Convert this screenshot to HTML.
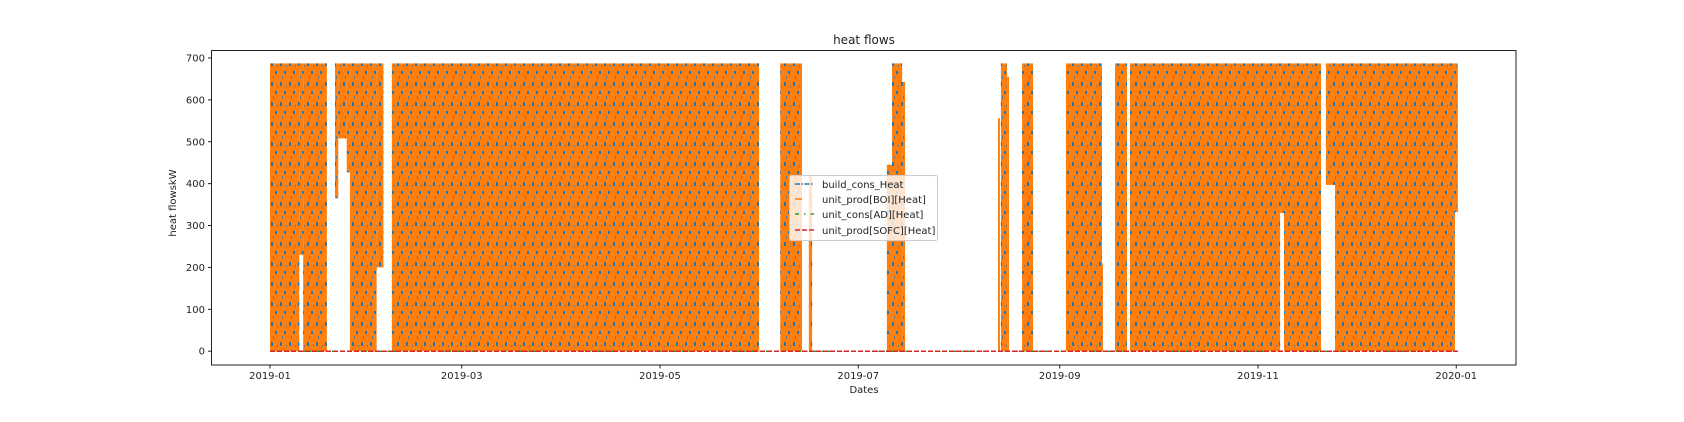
<!DOCTYPE html>
<html><head><meta charset="utf-8"><style>
body{margin:0;background:#fff;}
svg text{font-family:"DejaVu Sans","Liberation Sans",sans-serif;fill:#222;}
</style></head><body>
<svg width="1684" height="417" viewBox="0 0 1684 417" xmlns="http://www.w3.org/2000/svg">
<defs>
<pattern id="bluedots" x="0" y="0" width="9" height="20" patternUnits="userSpaceOnUse">
<rect x="1" y="2" width="2" height="4" fill="#1f77b4"/>
<rect x="5" y="11" width="2" height="3" fill="#1f77b4"/>
<rect x="3" y="16" width="1" height="3" fill="#1f77b4" opacity="0.7"/>
<rect x="7" y="5" width="1" height="2" fill="#1f77b4" opacity="0.6"/>
</pattern>
<clipPath id="plotclip"><rect x="211" y="51" width="1305" height="314"/></clipPath>
</defs>
<rect x="0" y="0" width="1684" height="417" fill="#fff"/>
<g id="marks" clip-path="url(#plotclip)"></g>
<g id="axes"></g>
<text x="864" y="44" text-anchor="middle" font-size="12">heat flows</text>
<text x="864" y="393" text-anchor="middle" font-size="10">Dates</text>
<text x="0" y="0" transform="translate(176,203) rotate(-90)" text-anchor="middle" font-size="10">heat flowskW</text>
<g>
<rect x="789.5" y="175.5" width="148" height="65" rx="2" fill="#fff" fill-opacity="0.8" stroke="#ccc"/>
<g><line x1="795" y1="184" x2="814" y2="184" stroke="#1f77b4" stroke-width="1.5" stroke-dasharray="5,1.5,1.5,1.5"/><text x="822" y="188" font-size="10">build_cons_Heat</text></g>
<g><line x1="795" y1="199" x2="814" y2="199" stroke="#ff7f0e" stroke-width="1.5" stroke-dasharray="7,30"/><text x="822" y="203" font-size="10">unit_prod[BOI][Heat]</text></g>
<g><line x1="795" y1="214" x2="814" y2="214" stroke="#2ca02c" stroke-width="1.5" stroke-dasharray="4,5,1.5,5"/><text x="822" y="218" font-size="10">unit_cons[AD][Heat]</text></g>
<g><line x1="795" y1="230" x2="814" y2="230" stroke="#d62728" stroke-width="1.5" stroke-dasharray="5,2"/><text x="822" y="234" font-size="10">unit_prod[SOFC][Heat]</text></g>
</g>
<script>
// Data: active periods (day of 2019), min and max heat flow (kW)
const segStart = [0, 9.0, 10.2, 20.0, 21.0, 23.6, 24.6, 32.8, 37.5, 157.0, 165.8, 189.8, 191.4, 194.5, 224.0, 224.9, 226.8, 231.4, 244.9, 255.4, 260.0, 264.6, 310.8, 312.0, 324.9, 327.7, 364.6];
const segEnd   = [9.0, 10.2, 17.5, 21.0, 23.6, 24.6, 32.8, 34.9, 150.5, 163.7, 166.8, 191.4, 194.5, 195.4, 224.6, 226.8, 227.4, 234.8, 256.0, 256.3, 263.7, 310.8, 312.0, 323.4, 328.0, 364.6, 365.5];
const segLow   = [0, 230, 0, 365, 508, 427, 0, 200, 0, 0, 0, 0, 0, 0, 0, 0, 0, 0, 0, 0, 0, 0, 330, 0, 397, 0, 332];
const segHigh  = [687, 687, 687, 687, 687, 687, 687, 687, 687, 687, 420, 445, 687, 643, 556, 687, 655, 687, 687, 210, 687, 687, 687, 687, 687, 687, 687];
const yTicks = [0, 100, 200, 300, 400, 500, 600, 700];
const xTickDays = [0, 59, 120, 181, 243, 304, 365];
const xTickLabels = ["2019-01", "2019-03", "2019-05", "2019-07", "2019-09", "2019-11", "2020-01"];
const sofcValue = 0;
const adValue = 0;

const NS = "http://www.w3.org/2000/svg";
const X0 = 270, PXD = 3.25, Y0 = 351.2, PXU = 0.4189;
function xs(d){ return X0 + d * PXD; }
function ys(v){ return Y0 - v * PXU; }
function mk(tag, attrs, parent){
  const e = document.createElementNS(NS, tag);
  for (const k in attrs) e.setAttribute(k, attrs[k]);
  parent.appendChild(e);
  return e;
}
const marks = document.getElementById("marks");
const axes = document.getElementById("axes");

for (let i = 0; i < segStart.length; i++){
  const x1 = xs(segStart[i]), x2 = xs(segEnd[i]);
  const yt = ys(segHigh[i]), yb = ys(segLow[i]);
  const r = mk("rect", {x:x1, y:yt, width:Math.max(x2-x1,1), height:yb-yt, fill:"#ff7f0e"}, marks);
  
  
  const b = mk("rect", {x:x1, y:yt, width:Math.max(x2-x1,1), height:yb-yt, fill:"url(#bluedots)"}, marks);
  
  
}
const g = mk("line", {x1:xs(0), x2:xs(365.5), y1:ys(adValue), y2:ys(adValue), stroke:"#2ca02c", "stroke-width":1.5, "stroke-dasharray":"4,5,1.5,5"}, marks);


const rl = mk("line", {x1:xs(0), x2:xs(365.5), y1:ys(sofcValue), y2:ys(sofcValue), stroke:"#d62728", "stroke-width":1.5, "stroke-dasharray":"5,2"}, marks);



const frame = mk("rect", {x:211.5, y:50.5, width:1304.5, height:314.5, fill:"none", stroke:"#222", "stroke-width":1}, axes);



for (let i = 0; i < yTicks.length; i++){
  const y = ys(yTicks[i]);
  const t = mk("line", {x1:208, x2:211.5, y1:y, y2:y, stroke:"#222"}, axes);
  
  
  const l = mk("text", {x:205, y:y+3.5, "text-anchor":"end", "font-size":10}, axes);
  l.textContent = yTicks[i];
  
  
}
for (let i = 0; i < xTickDays.length; i++){
  const x = xs(xTickDays[i]);
  const t = mk("line", {x1:x, x2:x, y1:365, y2:368.5, stroke:"#222"}, axes);
  
  
  const l = mk("text", {x:x, y:379, "text-anchor":"middle", "font-size":10}, axes);
  l.textContent = xTickLabels[i];
  
  
}
</script>
</svg>
</body></html>
